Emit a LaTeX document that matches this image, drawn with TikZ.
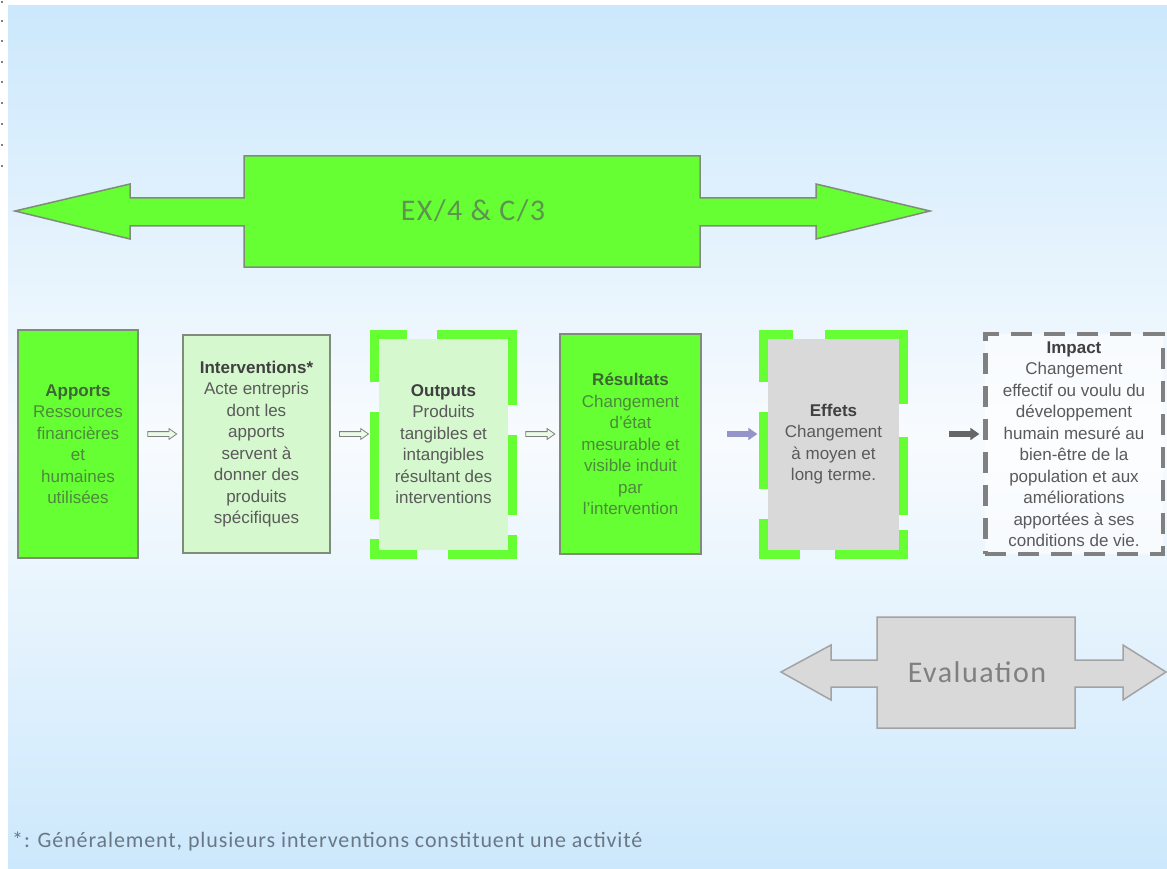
\documentclass[tikz,border=0pt]{standalone}
\usepackage{fontspec}
\setmainfont{Liberation Sans}
\newfontfamily\calibri{Carlito}[LetterSpace=5]
\newfontfamily\calibrinote{Carlito}[LetterSpace=4]
\usetikzlibrary{arrows,shapes.arrows}

\definecolor{vert}{HTML}{66FF33}
\definecolor{vertpale}{HTML}{D6F8CE}
\definecolor{gris}{HTML}{D9D9D9}
\definecolor{bord}{HTML}{7F8C7A}
\definecolor{grisbord}{HTML}{A3A3A3}
\definecolor{ciel}{HTML}{CCE8FC}
\definecolor{fond}{HTML}{F8FBFE}
\definecolor{txtvert}{HTML}{4C8A3C}
\definecolor{titvert}{HTML}{3D6633}
\definecolor{txtgris}{HTML}{5A5A5A}
\definecolor{titgris}{HTML}{404040}
\definecolor{exvert}{HTML}{5C9450}
\definecolor{mauve}{HTML}{9494C8}
\definecolor{notegris}{HTML}{6A7886}

\begin{document}
\begin{tikzpicture}[x=1pt,y=-1pt,node distance=180pt,
  box/.style={rectangle,inner sep=0pt,outer sep=0pt,align=center,font=\fontsize{17}{21.5}\selectfont},
  vertbox/.style={box,fill=vert,draw=bord,line width=1.5pt,text=txtvert},
  palebox/.style={box,fill=vertpale,draw=bord,line width=1.5pt,text=txtgris},
  dashbox/.style={box,outer sep=4.5pt,text=txtgris},
  greendash/.style={draw=vert,line width=9pt},
  flow/.style={single arrow,inner sep=2pt,single arrow head extend=3pt,single arrow tip angle=70,minimum height=29pt,line width=0.8pt,yshift=10pt},
  big/.style={font=\calibri\fontsize{30}{30}\selectfont}]
  \useasboundingbox (0,0) rectangle (1167,869);
  \shade[top color=ciel,bottom color=ciel,middle color=fond] (8,6) rectangle (1167,869);
  \foreach \y in {2,21,41,62,82,103,124,145,166}
    \fill (2,\y) circle (0.8pt);

  % EX/4 & C/3
  \draw[fill=vert,draw=bord,line width=1.5pt] (15,211) -- (130,184) -- (130,198) -- (244,198) -- (244,156) -- (700,156)
    -- (700,198) -- (816,198) -- (816,184) -- (930,211) -- (816,239) -- (816,226) -- (700,226) -- (700,267)
    -- (244,267) -- (244,226) -- (130,226) -- (130,239) -- cycle;
  \node[big,text=exvert] (ex) at (473,211) {EX/4 \& C/3};

  \node[vertbox,minimum width=120pt,minimum height=228pt] (apports) at (78,444)
    {\textcolor{titvert}{\textbf{Apports}}\\Ressources\\financières\\et\\humaines\\utilisées};
  \node[palebox,minimum width=147pt,minimum height=218pt] (interv) [right of=apports,node distance=178.5pt]
    {\textcolor{titgris}{\textbf{Interventions*}}\\Acte entrepris\\dont les\\apports\\servent à\\donner des\\produits\\spécifiques};
  \node[dashbox,fill=vertpale,minimum width=129pt,minimum height=211pt] (outputs) [right of=interv,node distance=187pt]
    {\textcolor{titgris}{\textbf{Outputs}}\\Produits\\tangibles et\\intangibles\\résultant des\\interventions};
  \node[vertbox,minimum width=141pt,minimum height=220pt] (results) [right of=outputs,node distance=187pt]
    {\textcolor{titvert}{\textbf{Résultats}}\\Changement\\d'état\\mesurable et\\visible induit\\par\\l'intervention};
  \node[dashbox,fill=gris,minimum width=131pt,minimum height=211pt] (effets) [right of=results,node distance=203pt]
    {\textcolor{titgris}{\textbf{Effets}}\\Changement\\à moyen et\\long terme.};
  \node[box,draw=gray,line width=4.5pt,dash pattern=on 21pt off 12pt,fill=white,fill opacity=0.6,text opacity=1,text=txtgris,
    minimum width=177.5pt,minimum height=220pt] (impact) [right of=effets,node distance=240.5pt]
    {\textcolor{titgris}{\textbf{Impact}}\\Changement\\effectif ou voulu du\\développement\\humain mesuré au\\bien-être de la\\population et aux\\améliorations\\apportées à ses\\conditions de vie.};

  \draw[greendash,dash pattern=on 146pt off 30pt on 80pt off 20pt on 84pt off 31pt on 58pt off 20pt on 107pt off 30pt on 80pt off 30pt,dash phase=701pt]
    ([xshift=-21.5pt]outputs.north) -- (outputs.north east) -- (outputs.south east) -- (outputs.south west) -- (outputs.north west) -- ([xshift=-21.5pt]outputs.north);
  \draw[greendash,dash pattern=on 148pt off 33pt on 78pt off 15pt on 93pt off 35pt on 72pt off 30pt on 77pt off 30pt on 77pt off 32pt,dash phase=704pt]
    ([xshift=-24.5pt]effets.north) -- (effets.north east) -- (effets.south east) -- (effets.south west) -- (effets.north west) -- ([xshift=-24.5pt]effets.north);

  \path (apports.east) -- node[flow,fill=vertpale!50!white,draw=gray] (f1) {} (interv.west);
  \path (interv.east) -- node[flow,fill=vertpale!50!white,draw=gray] (f2) {} (outputs.west);
  \path (outputs.east) -- node[flow,fill=vertpale!50!white,draw=gray,pos=0.55] (f3) {} (results.west);
  \path (results.east) -- node[flow,fill=mauve,draw=mauve,pos=0.63] (f4) {} (effets.west);
  \path (effets.east) -- node[flow,fill=black!60,draw=black!60,pos=0.72] (f5) {} (impact.west);

  % Evaluation
  \draw[fill=gris,draw=grisbord,line width=1.5pt] (781,672) -- (831,645) -- (831,660) -- (877,660) -- (877,617) -- (1075,617)
    -- (1075,660) -- (1123,660) -- (1123,645) -- (1166,672) -- (1123,700) -- (1123,687) -- (1075,687) -- (1075,728)
    -- (877,728) -- (877,687) -- (831,687) -- (831,700) -- cycle;
  \node[big,text=gray] (eval) at (977,672) {Evaluation};

  \node[anchor=west,inner sep=0pt,font=\calibrinote\fontsize{22}{22}\selectfont,text=notegris] (note) at (12,841)
    {*: Généralement, plusieurs interventions constituent une activité};
\end{tikzpicture}
\end{document}
